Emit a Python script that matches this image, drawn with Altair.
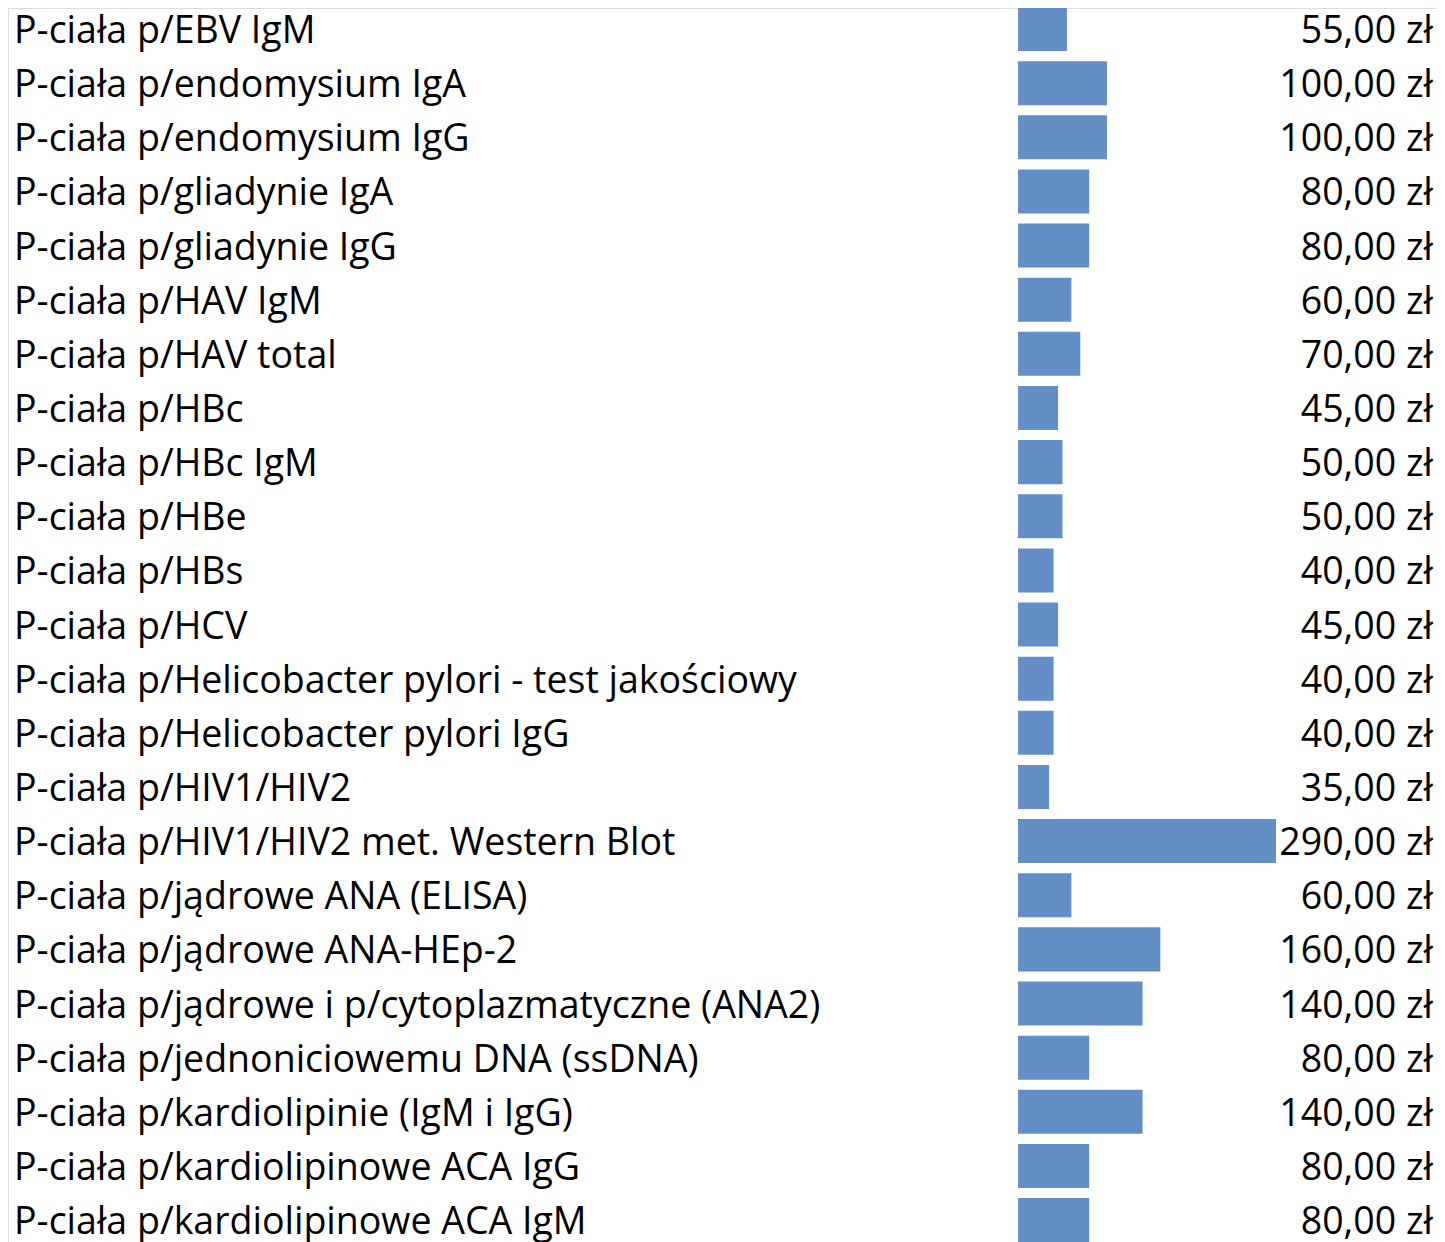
import altair as alt
import pandas as pd

names = [
    "P-ciała p/EBV IgM",
    "P-ciała p/endomysium IgA",
    "P-ciała p/endomysium IgG",
    "P-ciała p/gliadynie IgA",
    "P-ciała p/gliadynie IgG",
    "P-ciała p/HAV IgM",
    "P-ciała p/HAV total",
    "P-ciała p/HBc",
    "P-ciała p/HBc IgM",
    "P-ciała p/HBe",
    "P-ciała p/HBs",
    "P-ciała p/HCV",
    "P-ciała p/Helicobacter pylori - test jakościowy",
    "P-ciała p/Helicobacter pylori IgG",
    "P-ciała p/HIV1/HIV2",
    "P-ciała p/HIV1/HIV2 met. Western Blot",
    "P-ciała p/jądrowe ANA (ELISA)",
    "P-ciała p/jądrowe ANA-HEp-2",
    "P-ciała p/jądrowe i p/cytoplazmatyczne (ANA2)",
    "P-ciała p/jednoniciowemu DNA (ssDNA)",
    "P-ciała p/kardiolipinie (IgM i IgG)",
    "P-ciała p/kardiolipinowe ACA IgG",
    "P-ciała p/kardiolipinowe ACA IgM",
]
prices = [55, 100, 100, 80, 80, 60, 70, 45, 50, 50, 40, 45, 40, 40, 35,
          290, 60, 160, 140, 80, 140, 80, 80]

df = pd.DataFrame({
    "name": names,
    "price": prices,
    "label": [f"{p:.2f}".replace(".", ",") + " zł" for p in prices],
})

FONT = "Open Sans"
FS = 37.5

y_enc = alt.Y("name:N", sort=None, axis=None,
              scale=alt.Scale(range=[-6.07, 1239.15], paddingInner=0.187,
                              paddingOuter=0.0935))

base = alt.Chart(df)

bars = base.mark_bar(color="#638EC6").encode(
    y=y_enc,
    x=alt.X("price:Q", axis=None,
            scale=alt.Scale(domain=[0, 290], range=[1010, 1268], zero=True, nice=False)),
)

names_txt = base.mark_text(align="left", baseline="alphabetic", dy=14,
                           font=FONT, fontSize=FS, color="black").encode(
    y=y_enc, x=alt.value(6), text="name:N")

vals_txt = base.mark_text(align="right", baseline="alphabetic", dy=14,
                          font=FONT, fontSize=FS, color="black").encode(
    y=y_enc, x=alt.value(1425), text="label:N")

chart = alt.layer(bars, names_txt, vals_txt).properties(
    width=1429, height=1234,
    autosize=alt.AutoSizeParams(type="none"),
    padding=0,
).configure_view(strokeWidth=0).configure(background="white")

chart.save("out.html", embed_options={"renderer": "svg", "actions": False})
